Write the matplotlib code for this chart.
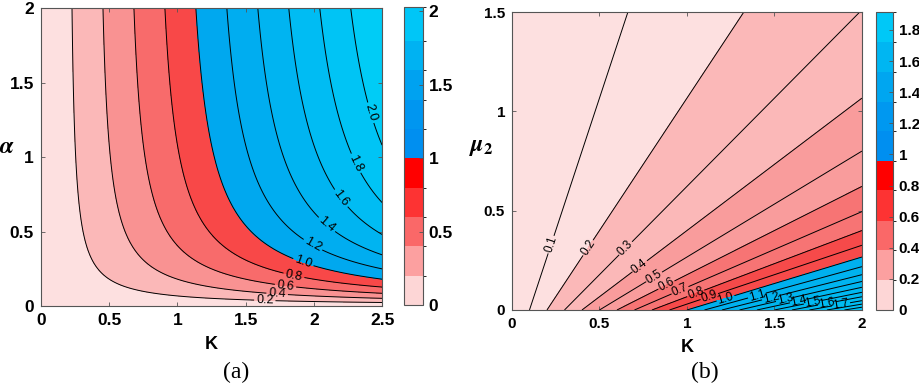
import numpy as np
import matplotlib.pyplot as plt
from matplotlib.colors import ListedColormap, BoundaryNorm
from matplotlib.cm import ScalarMappable

plt.rcParams['font.family'] = ['Liberation Sans', 'DejaVu Sans']
plt.rcParams['font.weight'] = 'bold'
plt.rcParams['mathtext.fontset'] = 'stix'

# ---------- panel (a): field = K * alpha / (alpha + a_half) ----------
K_lim_a = (0, 2.5)
alpha_lim = (0, 2)
a_half = 0.27
fill_levels_a = [0, 0.2, 0.4, 0.6, 0.8, 1.0, 1.2, 1.4, 1.6, 1.8, 2.0, 2.25]
line_levels_a = [0.2, 0.4, 0.6, 0.8, 1.0, 1.2, 1.4, 1.6, 1.8, 2.0]
fill_cols_a = ['#fde0e0', '#fbb8b8', '#f99292', '#f86b6b', '#f84848',
               '#00a8ef', '#00adf0', '#00b4f1', '#00bcf3', '#00c4f5', '#00ccf6']
label_pos_a = [(2.39, 1.29), (2.29, 0.95), (2.18, 0.71), (2.07, 0.52), (1.98, 0.39),
               (1.91, 0.26), (1.85, 0.19), (1.79, 0.12), (1.73, 0.07), (1.64, 0.03)]
cbar_bounds_a = [0, 0.2, 0.4, 0.6, 0.8, 1.0, 1.2, 1.4, 1.6, 1.8, 2.03]
cbar_cols_a = ['#fdd6d6', '#fca0a0', '#fa6868', '#fd3333', '#ff0000',
               '#008ff0', '#0096f0', '#00a2f0', '#00b2f2', '#00c6f7']
xticks_a = [0, 0.5, 1, 1.5, 2, 2.5]
xticklabels_a = ['0', '0.5', '1', '1.5', '2', '2.5']
yticks_a = [0, 0.5, 1, 1.5, 2]
yticklabels_a = ['0', '0.5', '1', '1.5', '2']
cticks_a = [0, 0.5, 1, 1.5, 2]
cticklabels_a = ['0', '0.5', '1', '1.5', '2']

# ---------- panel (b): field = K / (1 + mu_slope * mu2) ----------
K_lim_b = (0, 2)
mu_lim = (0, 1.5)
mu_slope = 3.75
fill_levels_b = [0, 0.1, 0.2, 0.3, 0.4, 0.5, 0.6, 0.7, 0.8, 0.9, 1.0,
                 1.1, 1.2, 1.3, 1.4, 1.5, 1.6, 1.7, 1.8, 1.9, 2.05]
line_levels_b = [0.1, 0.2, 0.3, 0.4, 0.5, 0.6, 0.7, 0.8, 0.9, 1.0,
                 1.1, 1.2, 1.3, 1.4, 1.5, 1.6, 1.7, 1.8, 1.9]
fill_cols_b = ['#fde0e0', '#fde0e0', '#fbb8b8', '#fbb8b8', '#f99c9c', '#f99c9c',
               '#f77474', '#f77474', '#f64a4a', '#f64a4a',
               '#00b0ee', '#00b2ef', '#00b4f0', '#00b6f0', '#00b8f1',
               '#00baf2', '#00bcf2', '#00bef3', '#00c0f4', '#00c2f4']
label_pos_b = [(0.22, 0.33), (0.44, 0.31), (0.65, 0.31), (0.73, 0.22), (0.81, 0.17),
               (0.88, 0.13), (0.96, 0.10), (1.05, 0.084), (1.13, 0.062), (1.22, 0.06),
               (1.40, 0.072), (1.48, 0.062), (1.56, 0.053), (1.64, 0.046),
               (1.72, 0.039), (1.80, 0.033), (1.88, 0.028)]
cbar_bounds_b = [0, 0.19, 0.385, 0.575, 0.77, 0.955, 1.15, 1.34, 1.53, 1.72, 1.915]
cbar_cols_b = ['#fdd6d6', '#fca0a0', '#fa6868', '#fd3333', '#ff0000',
               '#008ff0', '#0098f0', '#00a6f0', '#00b6f2', '#00c8f7']
xticks_b = [0, 0.5, 1, 1.5, 2]
xticklabels_b = ['0', '0.5', '1', '1.5', '2']
yticks_b = [0, 0.5, 1, 1.5]
yticklabels_b = ['0', '0.5', '1', '1.5']
cticks_b = [0, 0.2, 0.4, 0.6, 0.8, 1, 1.2, 1.4, 1.6, 1.8]
cticklabels_b = ['0', '0.2', '0.4', '0.6', '0.8', '1', '1.2', '1.4', '1.6', '1.8']

spine_col = '#555555'
fs_a = 12.5
fs_b = 11

fig = plt.figure(figsize=(9.2, 3.91), dpi=100)
ax_a = fig.add_axes([0.0446, 0.2174, 0.3707, 0.762])
cax_a = fig.add_axes([0.4391, 0.2200, 0.0207, 0.762])
ax_b = fig.add_axes([0.5565, 0.2072, 0.3804, 0.762])
cax_b = fig.add_axes([0.9522, 0.2072, 0.0185, 0.762])

# panel (a)
k = np.linspace(K_lim_a[0], K_lim_a[1], 400)
a = np.linspace(1e-4, alpha_lim[1], 400)
KK, AA = np.meshgrid(k, a)
Z = KK * AA / (AA + a_half)
ax_a.contourf(KK, AA, Z, levels=fill_levels_a, colors=fill_cols_a)
cs = ax_a.contour(KK, AA, Z, levels=line_levels_a, colors='k', linewidths=0.7)
txt = ax_a.clabel(cs, manual=label_pos_a, fmt='%.1f', fontsize=9, inline=True, inline_spacing=2)
for t in txt:
    t.set_fontweight('normal')

# panel (b)
k2 = np.linspace(K_lim_b[0], K_lim_b[1], 400)
m = np.linspace(mu_lim[0], mu_lim[1], 400)
KK2, MM = np.meshgrid(k2, m)
Z2 = KK2 / (1 + mu_slope * MM)
ax_b.contourf(KK2, MM, Z2, levels=fill_levels_b, colors=fill_cols_b)
cs2 = ax_b.contour(KK2, MM, Z2, levels=line_levels_b, colors='k', linewidths=0.7)
txt2 = ax_b.clabel(cs2, manual=label_pos_b, fmt='%.1f', fontsize=8.5, inline=True, inline_spacing=1)
for t in txt2:
    t.set_fontweight('normal')

for ax, xl, yl, xt, xtl, yt, ytl, fs in [
        (ax_a, K_lim_a, alpha_lim, xticks_a, xticklabels_a, yticks_a, yticklabels_a, fs_a),
        (ax_b, K_lim_b, mu_lim, xticks_b, xticklabels_b, yticks_b, yticklabels_b, fs_b)]:
    ax.set_xlim(xl)
    ax.set_ylim(yl)
    ax.set_xticks(xt)
    ax.set_xticklabels(xtl)
    ax.set_yticks(yt)
    ax.set_yticklabels(ytl)
    ax.tick_params(direction='in', length=3, width=0.6, color=spine_col,
                   labelsize=fs, pad=5, top=True, right=True)
    for s in ax.spines.values():
        s.set_color(spine_col)
        s.set_linewidth(0.8)
    ax.set_xlabel('K', fontsize=13, fontweight='bold', labelpad=6)

# colorbars
for cax, bnds, cols, ct, ctl, fs in [
        (cax_a, cbar_bounds_a, cbar_cols_a, cticks_a, cticklabels_a, fs_a),
        (cax_b, cbar_bounds_b, cbar_cols_b, cticks_b, cticklabels_b, fs_b)]:
    sm = ScalarMappable(norm=BoundaryNorm(bnds, len(cols)), cmap=ListedColormap(cols))
    cb = fig.colorbar(sm, cax=cax, spacing='proportional')
    cb.set_ticks(ct)
    cb.set_ticklabels(ctl)
    cb.outline.set_edgecolor(spine_col)
    cb.outline.set_linewidth(0.8)
    cax.tick_params(direction='in', length=3, width=0.6, color=spine_col,
                    labelsize=fs, pad=4)

# y labels
fig.text(7 / 920, 1 - 147 / 391, r'$\alpha$', fontsize=17, ha='center', va='center')
fig.text(481 / 920, 1 - 147 / 391, r'$\boldsymbol{\mu}_\mathbf{2}$', fontsize=17,
         ha='center', va='center')

# captions
fig.text(236 / 920, 1 - 372 / 391, '(a)', family='Liberation Serif', fontweight='normal',
         fontsize=17, ha='center', va='center')
fig.text(705 / 920, 1 - 372 / 391, '(b)', family='Liberation Serif', fontweight='normal',
         fontsize=17, ha='center', va='center')

fig.savefig('out.png', dpi=100)
